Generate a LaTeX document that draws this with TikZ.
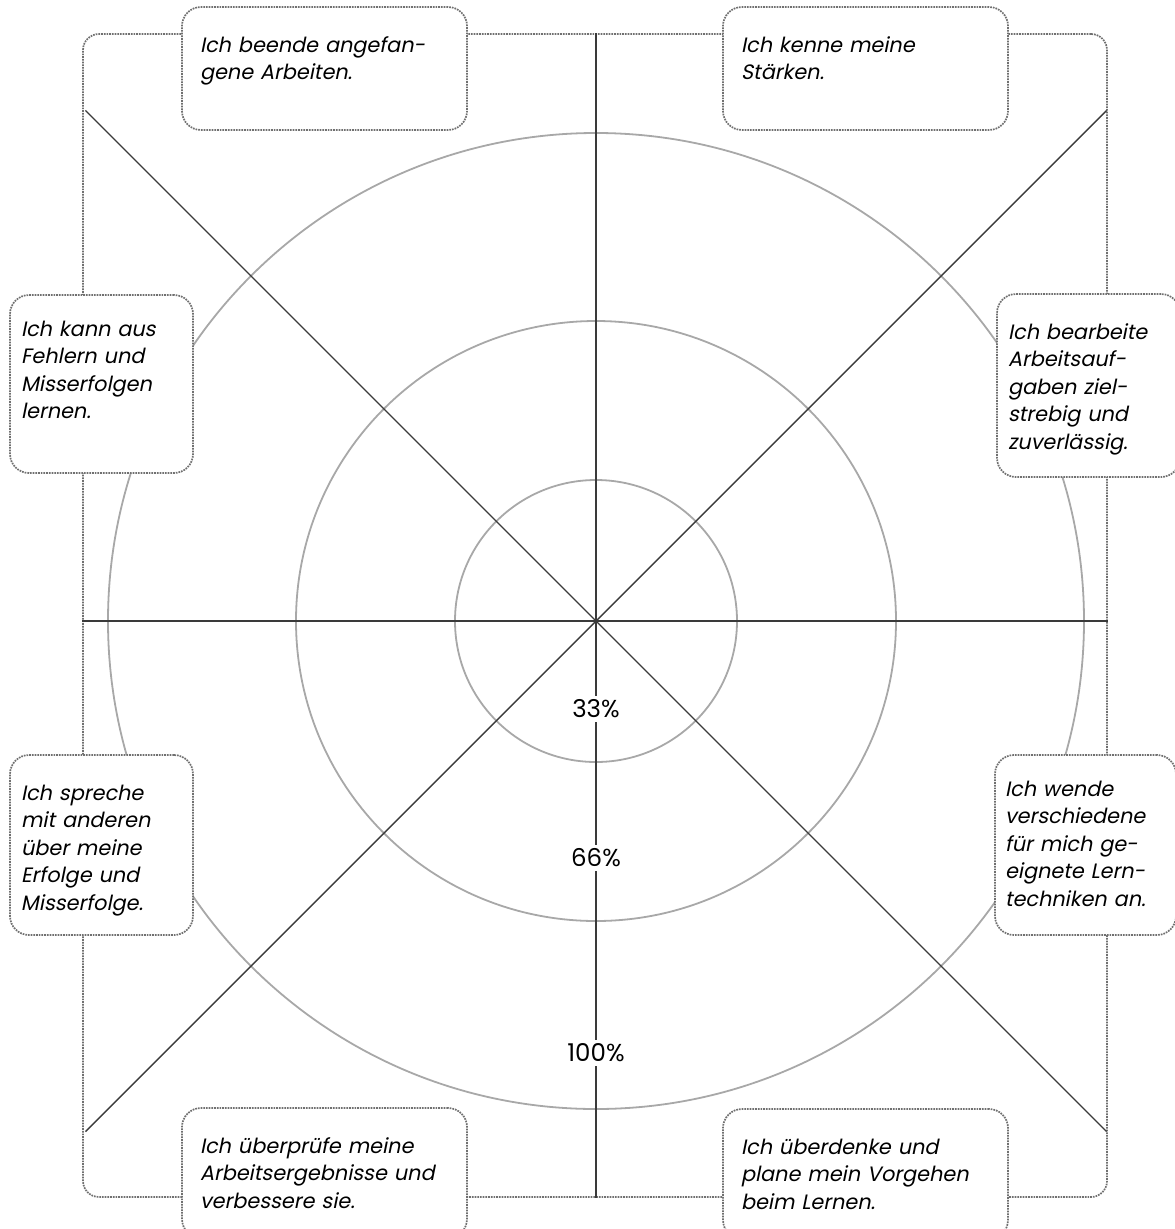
\documentclass[tikz,border=0pt]{standalone}
\usepackage{fontspec}
\setmainfont{Poppins}[AutoFakeSlant=0.2]
\usepackage{tikz}
\usetikzlibrary{positioning}
\definecolor{achse}{HTML}{3A3A3A}
\definecolor{kreis}{HTML}{A8A8A8}
\definecolor{punkte}{HTML}{707070}
\tikzset{
    rahmen/.style={draw=punkte, densely dotted, line width=1.7pt, rounded corners=16pt},
    kasten/.style={
        rahmen, rounded corners=19pt, fill=white, anchor=north west,
        outer sep=0pt, inner ysep=0pt, align=left, text height=45pt,
        font=\fontsize{20.8}{27.5}\selectfont\itshape
    },
    breit/.style={kasten, text width=249pt, inner xsep=18pt, text depth=78pt},
    schmal/.style={kasten, text width=161pt, inner xsep=11pt, text depth=135pt},
    achslinie/.style={draw=achse, line width=1.4pt},
    ring/.style={draw=kreis, line width=1.8pt},
    prozent/.style={fill=white, inner sep=4pt, font=\fontsize{24.5}{28}\selectfont},
}

\begin{document}
\begin{tikzpicture}[x=1pt, y=-1pt]
    \useasboundingbox (0,0) rectangle (1175,1229);
    \coordinate (mitte) at (596,621);
    % Ringe
    \foreach \r in {141,300,488}
        \draw[ring] (mitte) circle[radius=\r pt];
    % Rahmen
    \node[rahmen, minimum width=1024pt, minimum height=1163pt] (rahmen) at (595,615.5) {};
    % Achsen
    \draw[achslinie] (rahmen.north -| mitte) -- (rahmen.south -| mitte);
    \draw[achslinie] (rahmen.west |- mitte) -- (rahmen.east |- mitte);
    \foreach \w in {45,135,225,315}
        \draw[achslinie] (mitte) -- ++(\w:722);
    % Kaesten
    \node[breit] (beenden) at (182,7) {Ich beende angefan-\\gene Arbeiten.};
    \node[breit] (staerken) at (723,7) {Ich kenne meine\\Stärken.};
    \node[schmal, text height=41pt, text depth=137pt] (fehler) at (10,295)
        {Ich kann aus\\Fehlern und\\Misserfolgen\\lernen.};
    \node[schmal, text depth=138pt] (bearbeiten) at (997,294)
        {Ich bearbeite\\Arbeitsauf-\\gaben ziel-\\strebig und\\zuverlässig.};
    \node[schmal] (sprechen) at (10,755)
        {Ich spreche\\mit anderen\\über meine\\Erfolge und\\Misserfolge.};
    \node[schmal, text height=41pt, text depth=139pt, inner xsep=10pt] (techniken) at (995,755)
        {Ich wende\\verschiedene\\für mich ge-\\eignete Lern-\\techniken an.};
    \node[breit, text depth=85pt] (pruefen) at (182,1108)
        {Ich überprüfe meine\\Arbeitsergebnisse und\\verbessere sie.};
    \node[breit, text depth=85pt] (planen) at (723,1109)
        {Ich überdenke und\\plane mein Vorgehen\\beim Lernen.};
    % Prozente
    \node[prozent] (p33) at ([yshift=-88pt]mitte) {33\%};
    \node[prozent] (p66) at ([yshift=-237pt]mitte) {66\%};
    \node[prozent] (p100) at ([yshift=-432pt]mitte) {100\%};
\end{tikzpicture}
\end{document}
